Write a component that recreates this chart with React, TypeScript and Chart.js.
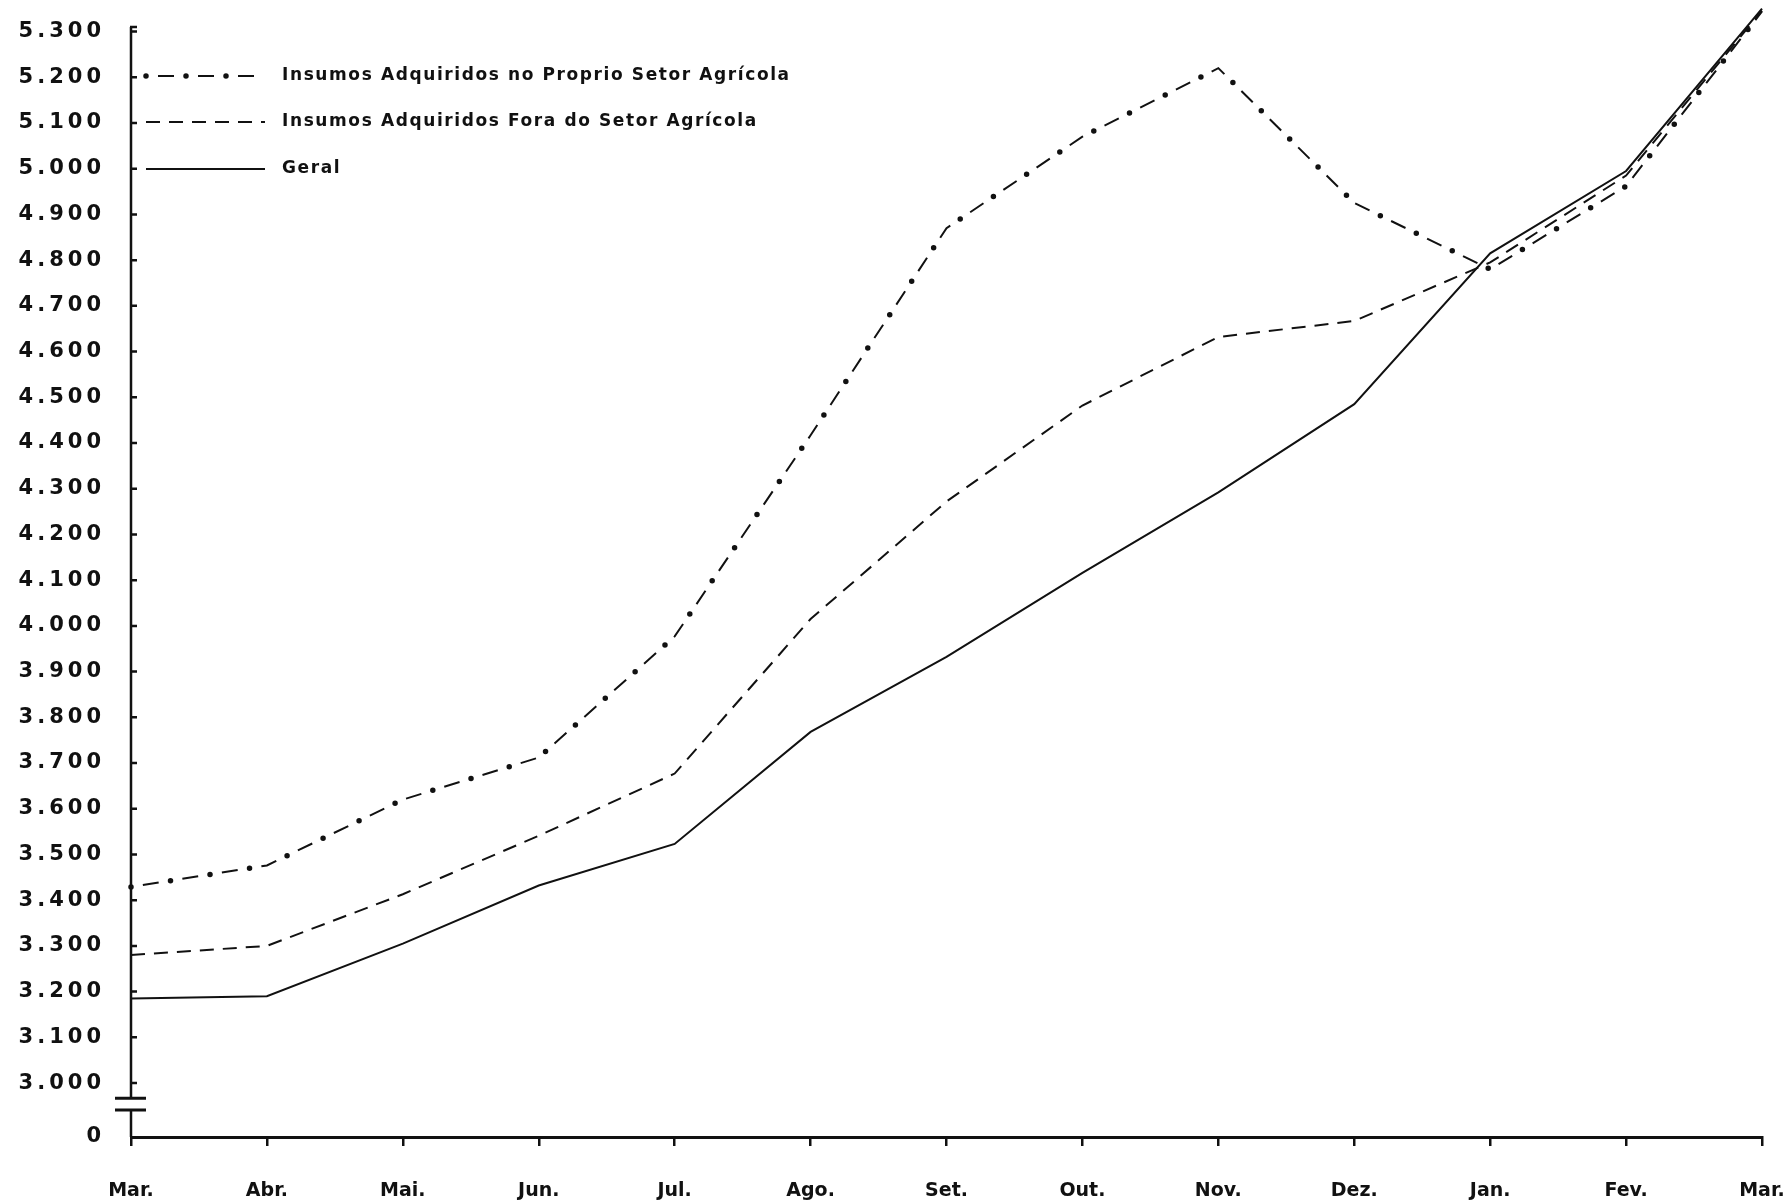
import { useEffect, useRef } from "react";
import { Chart, registerables } from "chart.js";

Chart.register(...registerables);

// ---- data ----
const months = ["Mar.", "Abr.", "Mai.", "Jun.", "Jul.", "Ago.", "Set.", "Out.", "Nov.", "Dez.", "Jan.", "Fev.", "Mar."];
const seriesNames = [
  "Insumos Adquiridos no Proprio Setor Agrícola",
  "Insumos Adquiridos Fora do Setor Agrícola",
  "Geral",
];
const proprioSetor = [3429, 3476, 3620, 3712, 3977, 4417, 4870, 5070, 5220, 4925, 4780, 4962, 5344];
const foraSetor = [3280, 3300, 3413, 3541, 3677, 4015, 4272, 4482, 4632, 4667, 4795, 4985, 5346];
const geral = [3185, 3190, 3305, 3432, 3523, 3768, 3932, 4116, 4292, 4485, 4815, 4995, 5350];
const yTickValues = [3000, 3100, 3200, 3300, 3400, 3500, 3600, 3700, 3800, 3900, 4000, 4100, 4200, 4300, 4400, 4500, 4600, 4700, 4800, 4900, 5000, 5100, 5200, 5300];
// scale position where the "0" label sits, below the axis break
const yZeroPosition = 2882;
const yZeroLabel = "0";
const yAxisTop = 5310;
const breakUpper = 2967;
const breakLower = 2941;

const INK = "#111111";
const FONT = "'DejaVu Sans', sans-serif";

const fmt = (v: number) => {
  const s = String(Math.round(v));
  return s.length > 3 ? s.slice(0, s.length - 3) + "." + s.slice(s.length - 3) : s;
};

const brokenAxisPlugin = {
  id: "brokenAxis",
  afterDraw(chart: any) {
    const { ctx, chartArea, scales } = chart;
    const y = scales.y;
    const x0 = chartArea.left;
    ctx.save();
    ctx.strokeStyle = INK;
    ctx.lineCap = "butt";
    // vertical axis, broken
    ctx.lineWidth = 2.5;
    ctx.beginPath();
    ctx.moveTo(x0, y.getPixelForValue(yAxisTop));
    ctx.lineTo(x0, y.getPixelForValue(breakUpper));
    ctx.moveTo(x0, y.getPixelForValue(breakLower));
    ctx.lineTo(x0, chartArea.bottom);
    ctx.stroke();
    // top hook
    ctx.beginPath();
    ctx.moveTo(x0 - 1, y.getPixelForValue(yAxisTop));
    ctx.lineTo(x0 + 6, y.getPixelForValue(yAxisTop));
    ctx.stroke();
    // break bars
    ctx.lineWidth = 3;
    ctx.beginPath();
    ctx.moveTo(x0 - 16, y.getPixelForValue(breakUpper));
    ctx.lineTo(x0 + 15, y.getPixelForValue(breakUpper));
    ctx.moveTo(x0 - 16, y.getPixelForValue(breakLower));
    ctx.lineTo(x0 + 15, y.getPixelForValue(breakLower));
    ctx.stroke();
    // inner tick marks
    ctx.lineWidth = 2.5;
    ctx.beginPath();
    for (const v of yTickValues) {
      const py = y.getPixelForValue(v);
      ctx.moveTo(x0, py);
      ctx.lineTo(x0 + 6, py);
    }
    ctx.stroke();
    // tick labels (letter-spaced, as in the original lettering)
    ctx.fillStyle = INK;
    ctx.font = `bold 21px ${FONT}`;
    (ctx as any).letterSpacing = "4px";
    ctx.textAlign = "right";
    ctx.textBaseline = "middle";
    const labelRight = x0 - 30 + 4;
    for (const t of y.ticks) {
      const label = Number(t.value) === yZeroPosition ? yZeroLabel : fmt(Number(t.value));
      ctx.fillText(label, labelRight, y.getPixelForValue(t.value));
    }
    (ctx as any).letterSpacing = "0px";
    ctx.restore();
  },
};

const legendPlugin = {
  id: "insideLegend",
  afterDraw(chart: any) {
    const { ctx, chartArea } = chart;
    const x1 = chartArea.left + 15;
    const x2 = chartArea.left + 134;
    const tx = chartArea.left + 151;
    const rows = [chartArea.top + 49, chartArea.top + 95, chartArea.top + 142];
    ctx.save();
    ctx.strokeStyle = INK;
    ctx.fillStyle = INK;
    // row 1: dash-dot with dots
    ctx.lineWidth = 2;
    ctx.setLineDash([16, 24]);
    ctx.lineDashOffset = 28;
    ctx.beginPath();
    ctx.moveTo(x1, rows[0]);
    ctx.lineTo(x2, rows[0]);
    ctx.stroke();
    ctx.lineWidth = 5.5;
    ctx.lineCap = "round";
    ctx.setLineDash([0, 40]);
    ctx.lineDashOffset = 0;
    ctx.beginPath();
    ctx.moveTo(x1, rows[0]);
    ctx.lineTo(x2, rows[0]);
    ctx.stroke();
    // row 2: dashed
    ctx.lineCap = "butt";
    ctx.lineWidth = 2;
    ctx.setLineDash([14, 9]);
    ctx.beginPath();
    ctx.moveTo(x1, rows[1]);
    ctx.lineTo(x2, rows[1]);
    ctx.stroke();
    // row 3: solid
    ctx.setLineDash([]);
    ctx.beginPath();
    ctx.moveTo(x1, rows[2]);
    ctx.lineTo(x2, rows[2]);
    ctx.stroke();
    // text
    ctx.font = `bold 17px ${FONT}`;
    (ctx as any).letterSpacing = "1.6px";
    ctx.textBaseline = "middle";
    ctx.textAlign = "left";
    seriesNames.forEach((n, i) => ctx.fillText(n, tx, rows[i]));
    (ctx as any).letterSpacing = "0px";
    ctx.restore();
  },
};

export default function App() {
  const ref = useRef<HTMLCanvasElement | null>(null);

  useEffect(() => {
    if (!ref.current) return;
    const chart = new Chart(ref.current, {
      type: "line",
      data: {
        labels: months,
        datasets: [
          {
            label: seriesNames[0],
            data: proprioSetor,
            borderColor: INK,
            borderWidth: 2,
            borderDash: [16, 24],
            borderDashOffset: 28,
            pointRadius: 0,
            tension: 0,
            fill: false,
            clip: false as any,
          },
          {
            label: seriesNames[0] + " (pontos)",
            data: proprioSetor,
            borderColor: INK,
            borderWidth: 5.5,
            borderDash: [0, 40],
            borderCapStyle: "round",
            pointRadius: 0,
            tension: 0,
            fill: false,
            clip: false as any,
          },
          {
            label: seriesNames[1],
            data: foraSetor,
            borderColor: INK,
            borderWidth: 2,
            borderDash: [14, 9],
            pointRadius: 0,
            tension: 0,
            fill: false,
            clip: false as any,
          },
          {
            label: seriesNames[2],
            data: geral,
            borderColor: INK,
            borderWidth: 2,
            pointRadius: 0,
            tension: 0,
            fill: false,
            clip: false as any,
          },
        ],
      },
      options: {
        responsive: false,
        animation: false,
        layout: { padding: { top: 27, right: 26, left: 0, bottom: 0 } },
        plugins: { legend: { display: false }, tooltip: { enabled: false } },
        scales: {
          x: {
            type: "category",
            offset: false,
            grid: { display: true, drawOnChartArea: false, drawTicks: true, tickLength: 9, color: INK, lineWidth: 2.5 },
            border: { display: true, color: INK, width: 3 },
            ticks: {
              autoSkip: false,
              maxRotation: 0,
              padding: 34,
              color: INK,
              font: { family: FONT, weight: "bold", size: 19 },
            },
            afterFit: (s: any) => {
              s.height = 66;
              s.paddingLeft = 0;
              s.paddingRight = 0;
            },
          },
          y: {
            type: "linear",
            min: yZeroPosition,
            max: yAxisTop,
            grid: { display: false, drawTicks: false },
            border: { display: false },
            ticks: { display: false },
            afterBuildTicks: (s: any) => {
              s.ticks = [yZeroPosition, ...yTickValues].map((v) => ({ value: v }));
            },
            afterFit: (s: any) => {
              s.width = 131;
            },
          },
        },
      } as any,
      plugins: [brokenAxisPlugin, legendPlugin],
    });
    return () => chart.destroy();
  }, []);

  return (
    <canvas
      ref={ref}
      width={1788}
      height={1203}
      style={{ position: "fixed", left: 0, top: 0, display: "block", background: "#ffffff" }}
    />
  );
}
